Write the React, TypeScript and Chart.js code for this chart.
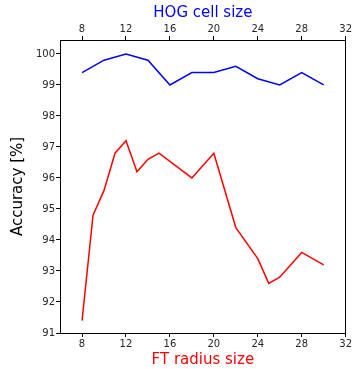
import React, { useEffect, useRef } from "react";
import { Chart, registerables } from "chart.js";
Chart.register(...registerables);

const hogCellSizes = [8, 10, 12, 14, 16, 18, 20, 22, 24, 26, 28, 30];
const hogAccuracy = [99.4, 99.8, 100.0, 99.8, 99.0, 99.4, 99.4, 99.6, 99.2, 99.0, 99.4, 99.0];
const ftRadiusSizes = [8, 9, 10, 11, 12, 13, 14, 15, 18, 20, 22, 24, 25, 26, 28, 30];
const ftAccuracy = [91.4, 94.8, 95.6, 96.8, 97.2, 96.2, 96.6, 96.8, 96.0, 96.8, 94.4, 93.4, 92.6, 92.8, 93.6, 93.2];
const xTicks = [8, 12, 16, 20, 24, 28, 32];
const yTicks = [91, 92, 93, 94, 95, 96, 97, 98, 99, 100];

const FONT = "'DejaVu Sans', sans-serif";
const TICK_COLOR = "#262626";

export default function App() {
  const ref = useRef<HTMLCanvasElement | null>(null);
  useEffect(() => {
    if (!ref.current) return;
    const tickFont = { family: FONT, size: 10 };
    const setTicks = (vals: number[]) => (scale: any) => {
      scale.ticks = vals.map((v) => ({ value: v }));
    };
    const chart = new Chart(ref.current, {
      type: "line",
      data: {
        datasets: [
          {
            label: "HOG",
            data: hogCellSizes.map((x, i) => ({ x, y: hogAccuracy[i] })),
            borderColor: "#0000ff",
            borderWidth: 1.5,
            pointRadius: 0,
            tension: 0,
            xAxisID: "xTop",
            yAxisID: "y",
          },
          {
            label: "FT",
            data: ftRadiusSizes.map((x, i) => ({ x, y: ftAccuracy[i] })),
            borderColor: "#ff0000",
            borderWidth: 1.5,
            pointRadius: 0,
            tension: 0,
            xAxisID: "x",
            yAxisID: "y",
          },
        ],
      },
      options: {
        responsive: false,
        animation: false,
        layout: { padding: { left: 9, right: 6, top: 4, bottom: 0 } },
        plugins: { legend: { display: false }, tooltip: { enabled: false } },
        scales: {
          x: {
            type: "linear",
            position: "bottom",
            min: 6,
            max: 32,
            afterBuildTicks: setTicks(xTicks),
            grid: { drawOnChartArea: false, drawTicks: true, tickLength: 4, color: "#000" },
            border: { display: true, color: "#000", width: 1 },
            ticks: { font: tickFont, color: TICK_COLOR, padding: 1, maxRotation: 0 },
            title: { display: true, text: "FT radius size", color: "#ff0000", font: { family: FONT, size: 15 }, padding: { top: 0, bottom: 0 } },
          },
          xTop: {
            type: "linear",
            position: "top",
            min: 6,
            max: 32,
            afterBuildTicks: setTicks(xTicks),
            grid: { drawOnChartArea: false, drawTicks: true, tickLength: 4, color: "#000" },
            border: { display: true, color: "#000", width: 1 },
            ticks: { font: tickFont, color: TICK_COLOR, padding: 1, maxRotation: 0 },
            title: { display: true, text: "HOG cell size", color: "#0000ff", font: { family: FONT, size: 15 }, padding: { top: 0, bottom: 0 } },
          },
          y: {
            type: "linear",
            position: "left",
            min: 91,
            max: 100.45,
            afterBuildTicks: setTicks(yTicks),
            grid: { drawOnChartArea: false, drawTicks: true, tickLength: 4, color: "#000" },
            border: { display: true, color: "#000", width: 1 },
            ticks: { font: tickFont, color: TICK_COLOR, padding: 1 },
            title: { display: true, text: "Accuracy [%]", color: "#000", font: { family: FONT, size: 15 }, padding: { top: 0, bottom: 8 } },
          },
          yRight: {
            type: "linear",
            position: "right",
            min: 91,
            max: 100.45,
            grid: { display: false },
            border: { display: true, color: "#000", width: 1 },
            ticks: { display: false },
            afterFit: (scale: any) => {
              scale.width = 0;
            },
          },
        },
      },
    });
    return () => chart.destroy();
  }, []);
  return (
    <canvas
      ref={ref}
      width={353}
      height={369}
      style={{ position: "absolute", left: 0, top: 0, width: 353, height: 369, display: "block" }}
    />
  );
}
